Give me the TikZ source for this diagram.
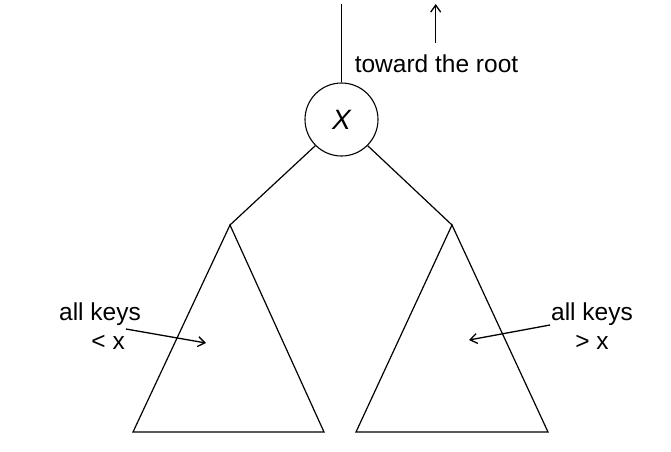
\documentclass[tikz,border=0pt]{standalone}
\usepackage{fontspec}
\setmainfont{Liberation Sans}
\usetikzlibrary{arrows.meta}
\begin{document}
\begin{tikzpicture}[x=1pt,y=-1pt,
  edge/.style={line width=1.2pt,draw=black},
  ptr/.style={line width=1.3pt,-{Straight Barb[length=7pt,width=10pt]}},
  lbl/.style={font=\fontsize{24.5}{27}\selectfont,inner sep=0pt,align=center}]
\useasboundingbox[fill=white] (0,0) rectangle (671,451);
\node[circle,draw,line width=1.1pt,minimum size=73pt,inner sep=0pt,
  font=\fontsize{28}{30}\selectfont\itshape] (x) at (341.5,119.5) {X};
\coordinate (top) at (341.5,4);
\draw[edge] (top) -- (x.north);
\coordinate (la) at (230,225);
\coordinate (ll) at (133,432);
\coordinate (lr) at (324,432);
\coordinate (ra) at (452,225);
\coordinate (rl) at (356,432);
\coordinate (rr) at (548,432);
\draw[edge] (x.225) -- (la);
\draw[edge] (x.-45) -- (ra);
\draw[edge] (la) -- (ll) -- (lr) -- cycle;
\draw[edge] (ra) -- (rl) -- (rr) -- cycle;
\coordinate (ab) at (435.7,43);
\coordinate (at) at (435.7,4);
\draw[ptr] (ab) -- (at);
\node[lbl,anchor=base] (root) at (436.5,72) {toward the root};
\node[lbl] (lk) at (100,326) {all keys\\[2pt]\,\,\,\,{<} x};
\node[lbl] (rk) at (592,326) {all keys\\[2pt]{>} x};
\coordinate (lt) at (206,343);
\coordinate (rt) at (469,340);
\draw[ptr] (126,329) -- (lt);
\draw[ptr] (550,325) -- (rt);
\end{tikzpicture}
\end{document}
